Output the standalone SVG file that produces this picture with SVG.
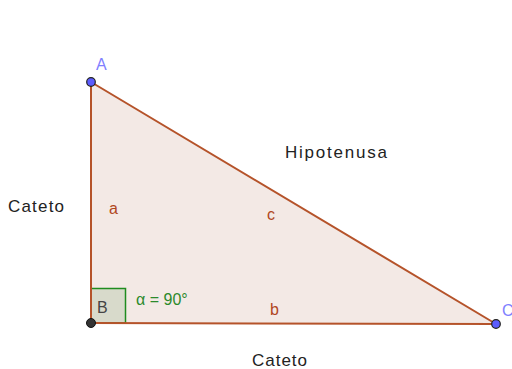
<svg xmlns="http://www.w3.org/2000/svg" width="512" height="369" viewBox="0 0 512 369">
<style>
text{font-family:"Liberation Sans",Arial,sans-serif}
.big{font-size:17px;fill:#222}
.lbl{font-size:16px;fill:#b0471d}
.pt{fill:#5c5cff;stroke:#222;stroke-width:1.2}
.ptl{font-size:16px;fill:#8080ff}
</style>
<rect width="512" height="369" fill="#fff"/>
<g id="triangle">
<polygon points="91,82 91,323 496,324" fill="#f3e9e5"/>
</g>
<g id="angle">
<rect x="91" y="288.5" width="34.5" height="34.5" fill="#d8dacb" stroke="#1f8c1f" stroke-width="1.5"/>
<text x="97" y="313" font-size="16" fill="#444">B</text>
<text x="136" y="305" font-size="16" fill="#2b8a2b">α = 90°</text>
</g>
<g id="connectors" stroke="#b5532a" stroke-width="2" fill="none" stroke-linecap="round">
<line x1="91" y1="82" x2="91" y2="323"/>
<line x1="91" y1="323" x2="496" y2="324"/>
<line x1="91" y1="82" x2="496" y2="324"/>
</g>
<g id="labels">
<text class="lbl" x="109" y="214">a</text>
<text class="lbl" x="267" y="220">c</text>
<text class="lbl" x="270" y="315">b</text>
<text class="big" x="285" y="158" textLength="102">Hipotenusa</text>
<text class="big" x="8" y="212" textLength="56">Cateto</text>
<text class="big" x="252" y="366" textLength="55">Cateto</text>
</g>
<g id="pointA">
<circle class="pt" cx="91" cy="82" r="4.3"/>
<text class="ptl" x="96" y="70">A</text>
</g>
<g id="pointB">
<circle cx="91" cy="323" r="4.5" fill="#333" stroke="#111" stroke-width="1"/>
</g>
<g id="pointC">
<circle class="pt" cx="496" cy="324" r="4.3"/>
<text class="ptl" x="502" y="316">C</text>
</g>
</svg>
